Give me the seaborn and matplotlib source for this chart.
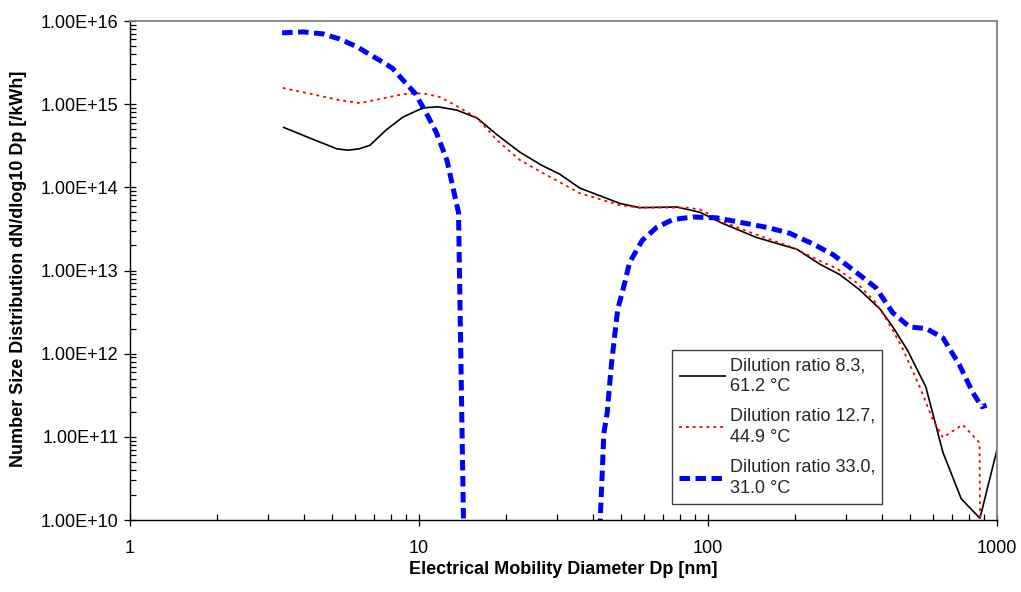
import matplotlib
matplotlib.use("Agg")
import matplotlib.pyplot as plt
import matplotlib.ticker as mticker
import seaborn as sns
import numpy as np
import pandas as pd

# ---------------- data ----------------
labels = ["Dilution ratio 8.3,\n61.2 °C",
          "Dilution ratio 12.7,\n44.9 °C",
          "Dilution ratio 33.0,\n31.0 °C"]

dp_a = [3.38, 4.2, 5.2, 5.68, 6.2, 6.76, 7.7, 8.8, 10.3, 11.6, 13.5, 15.9, 18.6,
        22.3, 26.5, 30.6, 36, 49.6, 58, 78, 94, 112, 147, 203, 243, 286, 334,
        395, 436, 490, 567, 650, 752, 873, 1000]
n_a = [5.3e14, 3.9e14, 2.9e14, 2.8e14, 2.9e14, 3.2e14, 4.9e14, 7.0e14, 9.0e14,
       9.3e14, 8.5e14, 6.8e14, 4.3e14, 2.66e14, 1.85e14, 1.45e14, 9.8e13,
       6.4e13, 5.7e13, 5.8e13, 5.0e13, 3.7e13, 2.5e13, 1.8e13, 1.2e13, 8.9e12,
       5.9e12, 3.4e12, 2.1e12, 1.1e12, 4.0e11, 6.5e10, 1.8e10, 1.05e10, 7.0e10]

dp_b = [3.38, 5.3, 6.26, 7.3, 8.8, 10.3, 11.8, 13.5, 15.9, 18.6, 22.3, 26.8,
        30.6, 36, 49.6, 58, 84.5, 94, 116, 147, 196, 249, 279, 327, 381, 423,
        469, 540, 600, 650, 760, 870, 875]
n_b = [1.57e15, 1.12e15, 1.03e15, 1.15e15, 1.32e15, 1.35e15, 1.22e15, 9.5e14,
       6.8e14, 3.7e14, 2.14e14, 1.49e14, 1.16e14, 8.5e13, 6.1e13, 5.7e13,
       5.7e13, 5.4e13, 3.7e13, 2.7e13, 1.9e13, 1.26e13, 1.06e13, 7.1e12,
       4.1e12, 2.3e12, 1.2e12, 4.0e11, 1.6e11, 9.8e10, 1.4e11, 8.5e10, 5e9]

dp_c1 = [3.36, 3.97, 4.65, 5.3, 6.1, 6.8, 7.5, 8.1, 8.8, 9.7, 10.6, 11.5, 12.5,
         13.1, 13.7, 14.3]
n_c1 = [7.2e15, 7.4e15, 7.0e15, 6.1e15, 4.9e15, 3.9e15, 3.2e15, 2.7e15,
        1.95e15, 1.35e15, 7.8e14, 4.5e14, 2.1e14, 1.0e14, 5.0e13, 5e9]

dp_c2 = [42.0, 43.1, 43.6, 44.8, 45.5, 46.4, 47.5, 48.7, 51.5, 53.5, 59.2, 66.4,
         75.6, 88.7, 107, 129, 160, 192, 230, 271, 334, 381, 436, 498, 570,
         650, 740, 825, 886, 920]
n_c2 = [5e9, 4e10, 1.1e11, 1.95e11, 3.7e11, 7.8e11, 1.6e12, 3.4e12, 7.1e12,
        1.24e13, 2.3e13, 3.3e13, 4.1e13, 4.4e13, 4.3e13, 3.8e13, 3.3e13,
        2.8e13, 2.1e13, 1.55e13, 8.9e12, 6.2e12, 3.1e12, 2.1e12, 2.0e12,
        1.55e12, 7.4e11, 3.4e11, 2.3e11, 2.4e11]

x_ticks = [1, 10, 100, 1000]
y_ticks = [1e10, 1e11, 1e12, 1e13, 1e14, 1e15, 1e16]

# ---------------- style ----------------
sns.set_theme(style="white")
plt.rcParams["font.family"] = ["Liberation Sans", "DejaVu Sans"]

W, H = 1021, 592
fig = plt.figure(figsize=(W / 100, H / 100), dpi=100)
ax = fig.add_axes([130 / W, 1 - 520 / H, (997 - 130) / W, (520 - 21) / H])

ax.set_xscale("log")
ax.set_yscale("log")

h1 = sns.lineplot(x=dp_a, y=n_a, ax=ax, color="black", lw=1.2,
                  sort=False, estimator=None).lines[-1]
h2 = sns.lineplot(x=dp_b, y=n_b, ax=ax, color="#ff0000", lw=1.3,
                  linestyle=(0, (1.6, 2.2)), sort=False,
                  estimator=None).lines[-1]
h3 = sns.lineplot(x=dp_c1, y=n_c1, ax=ax, color="#0000ff", lw=3.6,
                  linestyle=(0, (2.1, 1.1)), sort=False,
                  estimator=None).lines[-1]
sns.lineplot(x=dp_c2, y=n_c2, ax=ax, color="#0000ff", lw=3.6,
             linestyle=(0, (2.1, 1.1)), sort=False, estimator=None)
for ln in ax.lines:
    ln.set_solid_capstyle("butt")
    ln.set_dash_capstyle("butt")

ax.set_xlim(1, 1000)
ax.set_ylim(1e10, 1e16)

# ticks
ax.xaxis.set_major_locator(mticker.FixedLocator(x_ticks))
ax.yaxis.set_major_locator(mticker.FixedLocator(y_ticks))
ax.xaxis.set_minor_locator(mticker.LogLocator(base=10, subs=np.arange(2, 10)))
ax.yaxis.set_minor_locator(mticker.LogLocator(base=10, subs=np.arange(2, 10)))
ax.xaxis.set_major_formatter(mticker.FuncFormatter(lambda v, p: f"{v:g}"))
ax.yaxis.set_major_formatter(mticker.FuncFormatter(lambda v, p: f"{v:.2E}"))
ax.xaxis.set_minor_formatter(mticker.NullFormatter())
ax.yaxis.set_minor_formatter(mticker.NullFormatter())

ax.tick_params(axis="both", which="major", direction="inout", length=8.5,
               width=0.9, color="black", labelsize=13, labelcolor="black")
ax.tick_params(axis="x", which="major", pad=10)
ax.tick_params(axis="y", which="major", pad=4)
ax.tick_params(axis="both", which="minor", direction="in", length=4.5,
               width=0.9, color="black")
ax.tick_params(axis="x", which="both", bottom=True)
ax.tick_params(axis="y", which="both", left=True)

for s in ["left", "bottom"]:
    ax.spines[s].set_color("black")
    ax.spines[s].set_linewidth(1.0)
for s in ["top", "right"]:
    ax.spines[s].set_color("#808080")
    ax.spines[s].set_linewidth(1.3)

ax.set_xlabel("Electrical Mobility Diameter Dp [nm]", fontsize=13,
              fontweight="bold", color="black", va="center")
ax.set_ylabel("Number Size Distribution dN/dlog10 Dp [/kWh]", fontsize=13,
              fontweight="bold", color="black", va="center")
ax.xaxis.set_label_coords(0.5, (520 - 570) / 499)
ax.yaxis.set_label_coords((19 - 130) / 867, (520 - 269) / 499)

leg = ax.legend([h1, h2, h3], labels, loc="lower left",
                bbox_to_anchor=((672 - 130) / 867, (520 - 504) / 499),
                fontsize=13, frameon=True, fancybox=False, framealpha=1,
                edgecolor="#404040", handlelength=2.6, handletextpad=0.2,
                labelspacing=0.72, borderpad=0.4, borderaxespad=0)
leg.get_frame().set_linewidth(1.0)
for t in leg.get_texts():
    t.set_linespacing(1.3)

fig.savefig("out.png", dpi=100)
